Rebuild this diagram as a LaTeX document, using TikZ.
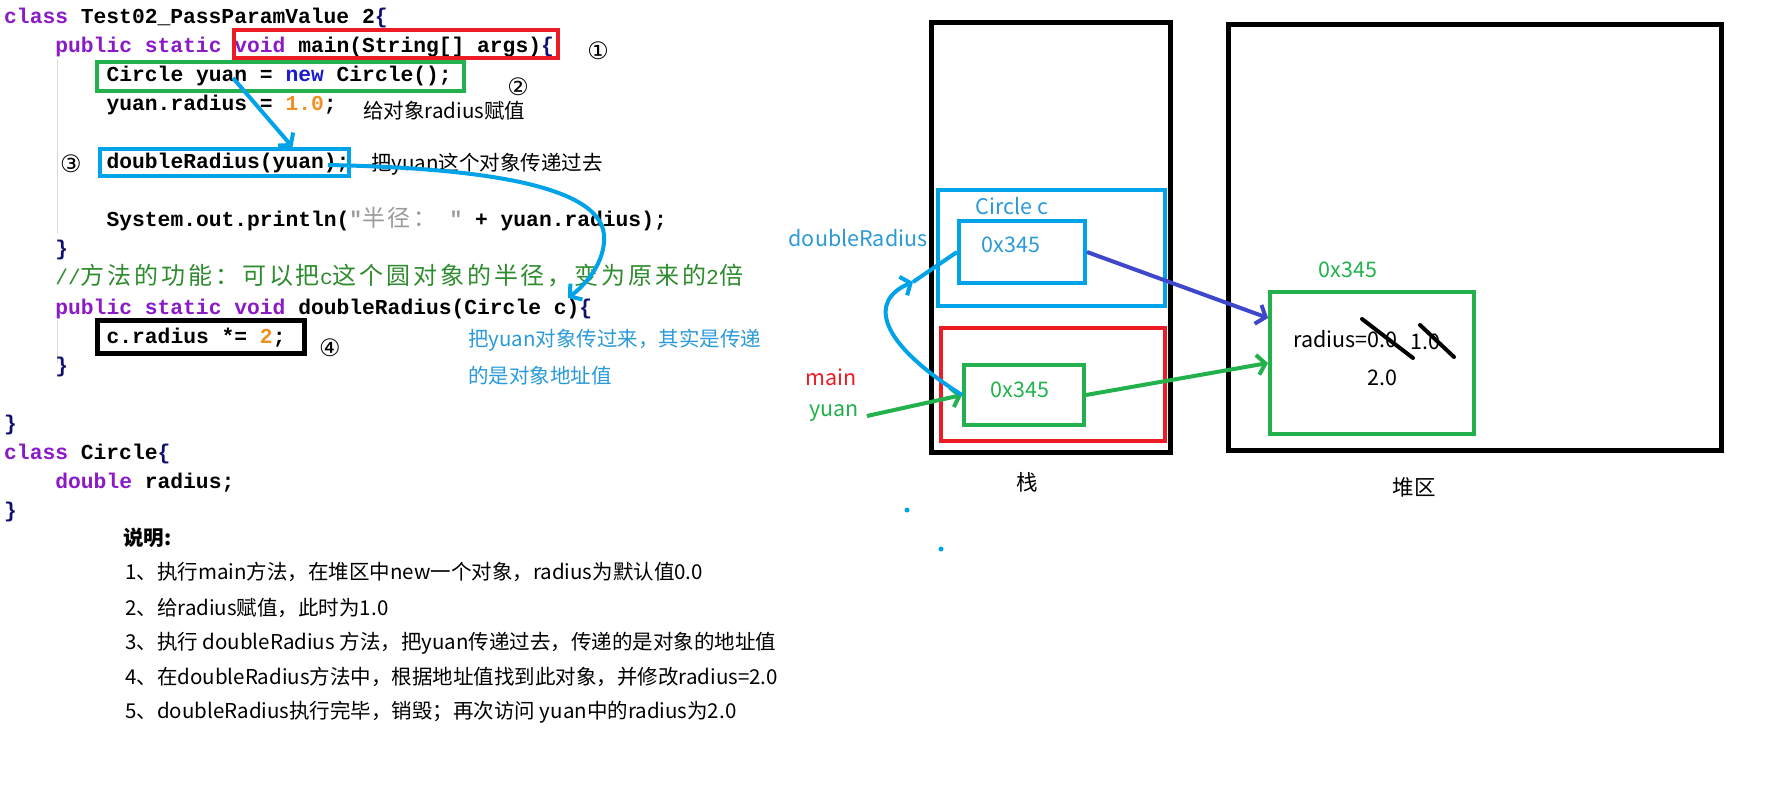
\documentclass[tikz,border=0pt]{standalone}
\usepackage{fontspec}
\setmainfont{Noto Sans CJK SC}
\newfontfamily\codefont{Liberation Mono}
\newfontfamily\cjkcode[LetterSpace=12]{Noto Sans CJK SC}
\newfontfamily\symfont{DejaVu Sans}
\usetikzlibrary{arrows.meta}

\definecolor{pred}{HTML}{ED1C24}
\definecolor{pgreen}{HTML}{22B14C}
\definecolor{pblue}{HTML}{00A2E8}
\definecolor{pindigo}{HTML}{3F48CC}
\definecolor{tblue}{HTML}{2A9AD8}
\definecolor{kw}{HTML}{8B1BC8}
\definecolor{kwblue}{HTML}{1A1AD0}
\definecolor{numc}{HTML}{F09020}
\definecolor{cmt}{HTML}{2E8B2E}
\definecolor{strgray}{HTML}{9A9A9A}
\definecolor{brace}{HTML}{101070}

\tikzset{
  memframe/.style={draw, line width=4pt, inner sep=0pt},
  code/.style={anchor=base west, inner sep=0pt, font=\codefont\bfseries\fontsize{21.3}{24}\selectfont},
  tag/.style={inner sep=0pt, font=\fontsize{21.5}{24}\selectfont},
  note/.style={anchor=west, inner sep=0pt, font=\fontsize{20.5}{24}\selectfont},
  num/.style={inner sep=0pt, font=\symfont\fontsize{24}{26}\selectfont},
  ptr/.style={line width=4pt, -{Straight Barb[length=8pt,width=20pt]}},
  strike/.style={line width=4pt, line cap=round},
  guide/.style={gray!30, line width=1pt}
}

\begin{document}
\begin{tikzpicture}[x=1pt, y=-1pt]
\useasboundingbox (0,0) rectangle (1776,790);

%Code:
\draw[guide] (57,60) -- (57,233);
\draw[guide] (57,320) -- (57,363);
\path
  (4,23) node[code] (l1) {\textcolor{kw}{class} Test02\_PassParamValue 2\textcolor{brace}{\{}}
  (55.2,52.1) node[code] (l2) {\textcolor{kw}{public static void} main(String[] args)\textcolor{brace}{\{}}
  (106.4,81.2) node[code] (l3) {Circle yuan = \textcolor{kwblue}{new} Circle();}
  (106.4,110.3) node[code] (l4) {yuan.radius = \textcolor{numc}{1.0};}
  (106.4,168.5) node[code] (l6) {doubleRadius(yuan);}
  (106.4,226.7) node[code] (l8) {System.out.println(\textcolor{strgray}{"{\cjkcode\mdseries\fontsize{23}{24}\selectfont 半径：} "} + yuan.radius);}
  (55.2,255.8) node[code] (l9) {\textcolor{brace}{\}}}
  (55.2,284.9) node[code] (l10) {\mdseries\textcolor{cmt}{//{\cjkcode\fontsize{24}{24}\selectfont 方法的功能：可以把}c{\cjkcode\fontsize{24}{24}\selectfont 这个圆对象的半径，变为原来的}2{\cjkcode\fontsize{24}{24}\selectfont 倍}}}
  (55.2,314) node[code] (l11) {\textcolor{kw}{public static void} doubleRadius(Circle c)\textcolor{brace}{\{}}
  (106.4,343.1) node[code] (l12) {c.radius *= \textcolor{numc}{2};}
  (55.2,372.2) node[code] (l13) {\textcolor{brace}{\}}}
  (4,430.4) node[code] (l15) {\textcolor{brace}{\}}}
  (4,459.5) node[code] (l16) {\textcolor{kw}{class} Circle\textcolor{brace}{\{}}
  (55.2,488.6) node[code] (l17) {\textcolor{kw}{double} radius;}
  (4,517.7) node[code] (l18) {\textcolor{brace}{\}}};

%Boxes round the code:
\node[memframe, draw=pred, minimum width=324pt, minimum height=28pt] (mainbox) at (396,44) {};
\node[memframe, draw=pgreen, minimum width=367pt, minimum height=29pt] (newbox) at (280.5,76.5) {};
\node[memframe, draw=pblue, minimum width=249pt, minimum height=27pt] (callbox) at (224.5,162.5) {};
\node[memframe, draw=black, line width=5pt, minimum width=207pt, minimum height=33pt] (mulbox) at (201,337) {};

\path
  (598,51) node[num] (n1) {①}
  (518,87) node[num] (n2) {②}
  (71,164) node[num] (n3) {③}
  (330,348) node[num] (n4) {④};

\node[note] (t1) at (363,111) {给对象radius赋值};
\node[note] (t2) at (371,164) {把yuan这个对象传递过去};
\node[note, text=tblue] (t3) at (468,340) {把yuan对象传过来，其实是传递};
\node[note, text=tblue] (t4) at (468,376) {的是对象地址值};

\coordinate (yuanvar) at (233,78);
\coordinate (argend) at (328,165);
\coordinate (paramc) at (568,298);
\draw[ptr, pblue] (yuanvar) -- ([xshift=68pt]callbox.north);
\draw[ptr, pblue] (argend) .. controls (480,168) and (600,185) .. (604,235)
  .. controls (606,262) and (585,285) .. (paramc);

%Notes:
\node[note, font=\bfseries\fontsize{20.5}{24}\selectfont] (h0) at (123,538) {说明:};
\path
  (125,572) node[note] (h1) {1、执行main方法，在堆区中new一个对象，radius为默认值0.0}
  (125,608) node[note] (h2) {2、给radius赋值，此时为1.0}
  (125,643) node[note] (h3) {3、执行 doubleRadius 方法，把yuan传递过去，传递的是对象的地址值}
  (125,677) node[note] (h4) {4、在doubleRadius方法中，根据地址值找到此对象，并修改radius=2.0}
  (125,712) node[note] (h5) {5、doubleRadius执行完毕，销毁；再次访问 yuan中的radius为2.0};

%Stack and heap:
\node[memframe, line width=5pt, minimum width=239pt, minimum height=430pt] (stack) at (1051,237.5) {};
\node[memframe, line width=5pt, minimum width=493pt, minimum height=426pt] (heap) at (1475,237.5) {};
\node[memframe, draw=pblue, minimum width=227pt, minimum height=116pt] (dframe) at (1051.5,248) {};
\node[memframe, draw=pred, minimum width=224pt, minimum height=113pt] (mframe) at (1053,384.5) {};
\node[memframe, draw=pblue, minimum width=126pt, minimum height=62pt] (cval) at (1022,252) {};
\node[memframe, draw=pgreen, minimum width=120pt, minimum height=60pt] (yval) at (1024,395) {};
\node[memframe, draw=pgreen, minimum width=204pt, minimum height=142pt] (obj) at (1372,363) {};

\node[tag] (stacklab) at (1027,482) {栈};
\node[tag] (heaplab) at (1414,487) {堆区};
\node[tag, text=tblue] (dlab) at (858,238) {doubleRadius};
\node[tag, text=pred] (mlab) at (831,377) {main};
\node[tag, text=pgreen] (ylab) at (834,413) {yuan};
\node[tag, text=tblue] (clab) at (1012,206) {Circle c};
\node[tag, text=tblue] (ctxt) at (1011,245) {0x345};
\node[tag, text=pgreen] (ytxt) at (1020,390) {0x345};
\node[tag, text=pgreen] (otxt) at (1348,270) {0x345};
\node[tag, anchor=west] (r0) at (1293,339) {radius=0.0};
\node[tag] (r1) at (1425,342) {1.0};
\node[tag] (r2) at (1382,378) {2.0};
\draw[strike] (1362,319) -- (1413,358);
\draw[strike] (1420,325) -- (1454,357);

%Pointers:
\coordinate (bend) at (913,282);
\draw[ptr, pindigo] (cval.east) -- ([yshift=-28pt]obj.north west);
\draw[ptr, pgreen] (yval.east) -- (obj.west);
\draw[ptr, pgreen] ([xshift=8pt,yshift=-3pt]ylab.east) -- (yval.west);
\draw[ptr, pblue] (yval.west) .. controls (875,340) and (870,300) .. (bend);
\draw[line width=4pt, pblue] (bend) -- (cval.west);

\fill[pblue] (907,510) circle (2.5);
\fill[pblue] (941,549) circle (2.5);
\end{tikzpicture}
\end{document}
